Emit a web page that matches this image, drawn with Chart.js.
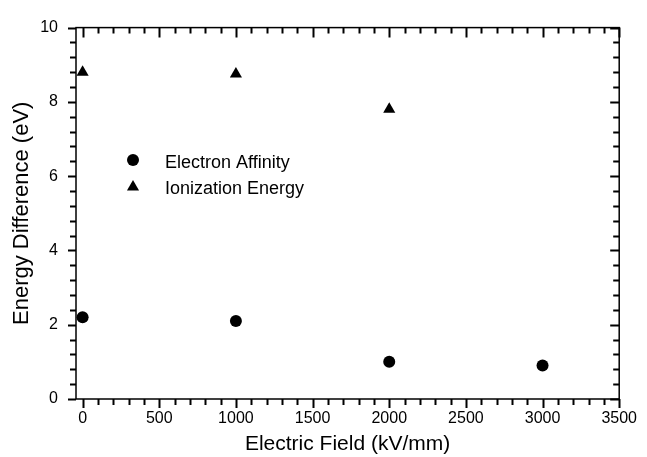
<!DOCTYPE html>
<html>
<head>
<meta charset="utf-8">
<script src="https://cdn.jsdelivr.net/npm/chart.js@4.4.0/dist/chart.umd.min.js"></script>
<style>
html,body{margin:0;padding:0;background:#fff;}
#wrap{width:647px;height:457px;position:relative;}
</style>
</head>
<body>
<div id="wrap"><canvas id="c" width="647" height="457"></canvas></div>
<script>
const fieldEA = [0, 1000, 2000, 3000];
const electronAffinity = [2.2, 2.1, 1.0, 0.9];
const fieldIE = [0, 1000, 2000];
const ionizationEnergy = [8.8, 8.75, 7.8];
const xTickValues = [0, 500, 1000, 1500, 2000, 2500, 3000, 3500];
const yTickValues = [0, 2, 4, 6, 8, 10];
const seriesNames = ['Electron Affinity', 'Ionization Energy'];

const FONT = "'Liberation Sans', Arial, Helvetica, sans-serif";

const frameTicks = {
  id: 'frameTicks',
  afterDraw(chart) {
    const ctx = chart.ctx;
    const a = chart.chartArea;
    const xs = chart.scales.x, ys = chart.scales.y;
    ctx.save();
    ctx.strokeStyle = '#000';
    ctx.lineWidth = 1.5;
    ctx.strokeRect(a.left, a.top, a.right - a.left, a.bottom - a.top);
    ctx.lineWidth = 2;
    ctx.beginPath();
    for (let v = 0; v <= 3500; v += 100) {
      const px = Math.round(xs.getPixelForValue(v)) + 0.5;
      const major = v % 500 === 0;
      const lb = major ? 9 : 6;
      const lt = major ? 10 : 6;
      ctx.moveTo(px, a.bottom); ctx.lineTo(px, a.bottom + lb);
      ctx.moveTo(px, a.top); ctx.lineTo(px, a.top + lt);
    }
    for (let i = 0; i <= 25; i++) {
      const v = i * 0.4;
      const py = Math.round(ys.getPixelForValue(v)) + 0.5;
      const major = i % 5 === 0;
      const ll = major ? 8 : 6;
      const lr = major ? 9 : 6;
      ctx.moveTo(a.left, py); ctx.lineTo(a.left - ll, py);
      ctx.moveTo(a.right, py); ctx.lineTo(a.right - lr, py);
    }
    ctx.stroke();

    ctx.fillStyle = '#000';
    ctx.beginPath();
    ctx.arc(133, 160, 6, 0, Math.PI * 2);
    ctx.fill();
    const r = 7, cx = 133, cy = 187;
    ctx.beginPath();
    for (let k = 0; k < 3; k++) {
      const ang = k * 2 * Math.PI / 3;
      const px = cx + Math.sin(ang) * r, py = cy - Math.cos(ang) * r;
      if (k === 0) ctx.moveTo(px, py); else ctx.lineTo(px, py);
    }
    ctx.closePath();
    ctx.fill();
    ctx.font = '18px ' + FONT;
    ctx.textBaseline = 'alphabetic';
    ctx.textAlign = 'left';
    ctx.fillText(seriesNames[0], 165, 168);
    ctx.fillText(seriesNames[1], 165, 194);
    ctx.restore();
  }
};

new Chart(document.getElementById('c'), {
  type: 'scatter',
  data: {
    datasets: [
      {
        label: seriesNames[0],
        data: fieldEA.map((x, i) => ({x, y: electronAffinity[i]})),
        pointStyle: 'circle',
        pointRadius: 6,
        backgroundColor: '#000',
        borderColor: '#000',
        borderWidth: 0
      },
      {
        label: seriesNames[1],
        data: fieldIE.map((x, i) => ({x, y: ionizationEnergy[i]})),
        pointStyle: 'triangle',
        pointRadius: 7,
        backgroundColor: '#000',
        borderColor: '#000',
        borderWidth: 0
      }
    ]
  },
  options: {
    responsive: false,
    animation: false,
    devicePixelRatio: 1,
    layout: {padding: {left: 0, top: 13, right: 20, bottom: 0}},
    plugins: {legend: {display: false}, tooltip: {enabled: false}},
    scales: {
      x: {
        type: 'linear',
        min: -43, max: 3500,
        afterBuildTicks(s) { s.ticks = xTickValues.map(v => ({value: v})); },
        afterFit(s) { s.height = 58; },
        grid: {display: true, drawOnChartArea: false, drawTicks: false},
        border: {display: false},
        ticks: {color: '#000', font: {family: FONT, size: 16}, padding: 10, maxRotation: 0, autoSkip: false, callback: v => String(v)},
        title: {display: true, text: 'Electric Field (kV/mm)', color: '#000', font: {family: FONT, size: 21}, padding: {top: 0, bottom: 0}}
      },
      y: {
        type: 'linear',
        min: 0, max: 10,
        afterBuildTicks(s) { s.ticks = yTickValues.map(v => ({value: v})); },
        afterFit(s) { s.width = 76; },
        grid: {display: true, drawOnChartArea: false, drawTicks: false},
        border: {display: false},
        ticks: {color: '#000', font: {family: FONT, size: 16}, padding: 18, autoSkip: false, callback: v => String(v)},
        title: {display: true, text: 'Energy Difference (eV)', color: '#000', font: {family: FONT, size: 22}, padding: {top: 9, bottom: 0}}
      }
    }
  },
  plugins: [frameTicks]
});
</script>
</body>
</html>
